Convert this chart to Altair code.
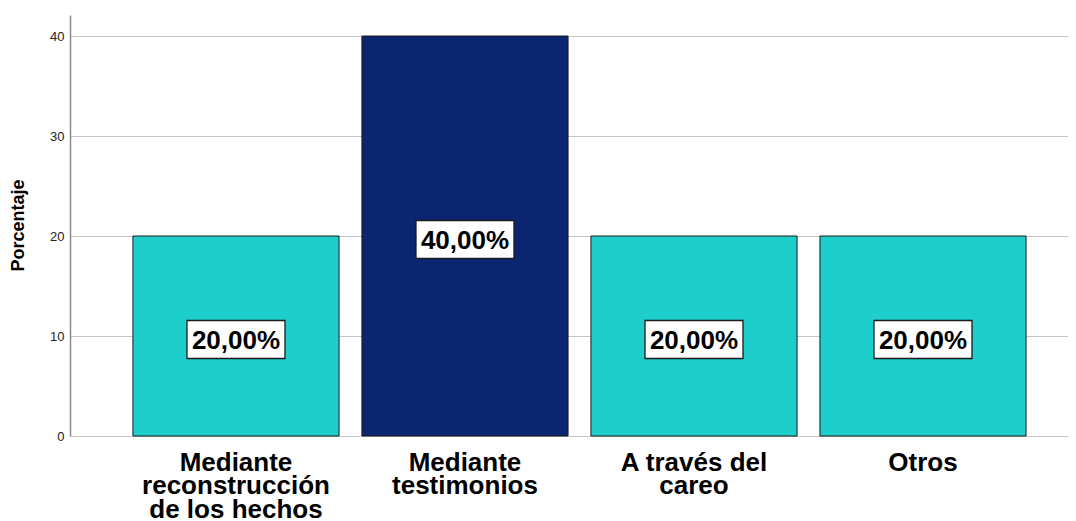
import altair as alt
import pandas as pd

categories = ["Mediante reconstrucción de los hechos", "Mediante testimonios", "A través del careo", "Otros"]
label_lines = ["Mediante|reconstrucción|de los hechos", "Mediante|testimonios", "A través del|careo", "Otros"]
percent = [20.0, 40.0, 20.0, 20.0]
bar_colors = ["#1ECECB", "#0B2570", "#1ECECB", "#1ECECB"]
y_ticks = [0, 10, 20, 30, 40]

df = pd.DataFrame({"cat": label_lines, "pct": percent, "color": bar_colors})

FONT = "Liberation Sans"

x_enc = alt.X(
    "cat:N",
    sort=label_lines,
    scale=alt.Scale(paddingInner=0.1, paddingOuter=0.229, align=0.6),
    axis=alt.Axis(
        title=None,
        labelExpr="split(datum.value, '|')",
        labelAngle=0,
        labelFont=FONT,
        labelFontSize=26,
        labelFontWeight="bold",
        labelColor="#000000",
        labelLineHeight=23.5,
        labelPadding=13,
        labelLimit=0,
        labelOverlap=False,
        ticks=False,
        domain=False,
        grid=False,
    ),
)

y_scale = alt.Scale(domain=[0, 42.1], nice=False, zero=True)

bars = alt.Chart(df).mark_bar(stroke="#1a1a1a", strokeWidth=1).encode(
    x=x_enc,
    y=alt.Y(
        "pct:Q",
        scale=y_scale,
        axis=alt.Axis(
            title="Porcentaje",
            values=y_ticks,
            grid=True,
            gridColor="#c4c4c4",
            gridWidth=1,
            ticks=False,
            domain=True,
            domainColor="#8a8a8a",
            domainWidth=1.5,
            labelFont=FONT,
            labelFontSize=13,
            labelColor="#222222",
            labelPadding=6,
            titleFont=FONT,
            titleFontSize=18,
            titleFontWeight="bold",
            titleColor="#000000",
            titleAngle=-90,
            titleX=-52,
            titleY=210,
            titleAlign="center",
            titleBaseline="middle",
        ),
    ),
    color=alt.Color("color:N", scale=None),
)

base = alt.Chart(df).transform_calculate(
    mid="datum.pct / 2",
    txt="replace(format(datum.pct, '.2f'), '.', ',') + '%'",
)

boxes = base.mark_point(
    shape="M-1,-0.388L1,-0.388L1,0.388L-1,0.388Z",
    size=98 * 98,
    filled=True,
    fill="#ffffff",
    stroke="#1a1a1a",
    strokeWidth=1.3,
    opacity=1,
    yOffset=3.5,
).encode(
    x=alt.X("cat:N", sort=label_lines),
    y=alt.Y("mid:Q", scale=y_scale),
)

texts = base.mark_text(
    font=FONT,
    fontSize=26,
    fontWeight="bold",
    color="#000000",
    baseline="middle",
    align="center",
    yOffset=4.5,
).encode(
    x=alt.X("cat:N", sort=label_lines),
    y=alt.Y("mid:Q", scale=y_scale),
    text="txt:N",
)

chart = alt.layer(bars, boxes, texts).properties(
    width=998,
    height=421,
    autosize=alt.AutoSizeParams(type="none"),
    padding={"left": 62, "top": 7, "right": 0, "bottom": 100},
    background="#ffffff",
).configure_view(stroke=None)

chart.save("out.html", embed_options={"renderer": "svg", "actions": False})
